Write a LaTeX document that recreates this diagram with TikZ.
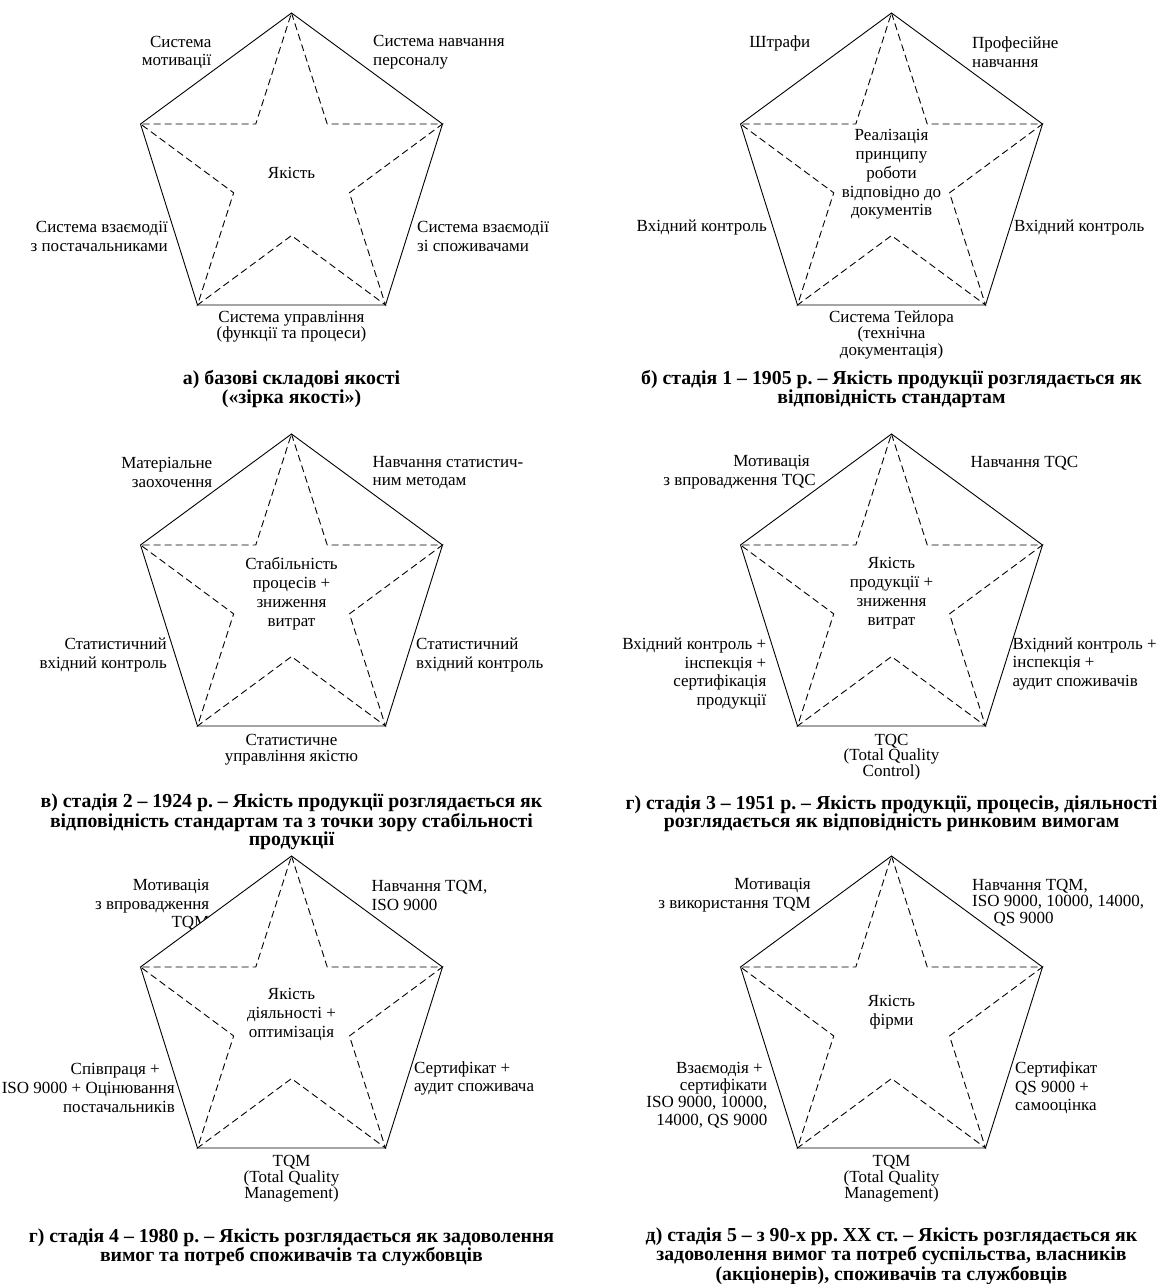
\documentclass[tikz,border=0pt]{standalone}
\usepackage{fontspec}
\setmainfont{Liberation Serif}
\frenchspacing
\tikzset{
  lbl/.style={font=\fontsize{17}{18.7}\selectfont, inner sep=0pt},
  botlbl/.style={font=\fontsize{17}{16}\selectfont, inner sep=0pt, align=center},
  ctr/.style={font=\fontsize{17}{19}\selectfont, inner sep=0pt, align=center},
  capt/.style={font=\fontsize{19.8}{18.3}\selectfont\bfseries, inner sep=0pt, align=center},
  rim/.style={draw=black, fill=white, line width=0.9pt, line join=miter},
  zirka/.style={draw=black, line width=0.9pt, dash pattern=on 7pt off 4pt}
}
\begin{document}
\begin{tikzpicture}[x=1pt,y=-1pt]
  \useasboundingbox (0,0) rectangle (1163,1284);

  % a) basic components
  \node[lbl, anchor=east, align=right] (a-tl) at (211.5,52.5) {Система\\мотивації};
  \node[lbl, anchor=west, align=left] (a-tr) at (373,52.5) {Система навчання\\персоналу};
  \node[lbl, anchor=east, align=right] (a-l) at (168,236.5) {Система взаємодії\\з постачальниками};
  \node[lbl, anchor=west, align=left] (a-r) at (417,236.5) {Система взаємодії\\зі споживачами};
  \node[botlbl] (a-b) at (291.5,326.5) {Система управління\\(функції та процеси)};

  % b) stage 1
  \node[lbl, anchor=east] (b-tl) at (810.5,43) {Штрафи};
  \node[lbl, anchor=west, align=left] (b-tr) at (972,52.5) {Професійне\\навчання};
  \node[lbl, anchor=east] (b-l) at (767,227) {Вхідний контроль};
  \node[lbl, anchor=west] (b-r) at (1014,227) {Вхідний контроль};
  \node[botlbl, font=\fontsize{17}{16.5}\selectfont] (b-b) at (891.5,335) {Система Тейлора\\(технічна\\документація)};

  % v) stage 2
  \node[lbl, anchor=east, align=right] (v-tl) at (212.5,472.5) {Матеріальне\\заохочення};
  \node[lbl, anchor=west, align=left] (v-tr) at (372.5,472.5) {Навчання статистич-\\ним методам};
  \node[lbl, anchor=east, align=right] (v-l) at (167,655) {Статистичний\\вхідний контроль};
  \node[lbl, anchor=west, align=left] (v-r) at (416,655) {Статистичний\\вхідний контроль};
  \node[botlbl] (v-b) at (291.5,749.5) {Статистичне\\управління якістю};

  % g) stage 3
  \node[lbl, anchor=east, align=right] (g-tl) at (816,472.5) {Мотивація\hspace*{6pt}\\з впровадження TQC};
  \node[lbl, anchor=west] (g-tr) at (970.5,463) {Навчання TQC};
  \node[lbl, anchor=east, align=right] (g-l) at (766.5,673.5) {Вхідний контроль +\\інспекція +\\сертифікація\\продукції};
  \node[lbl, anchor=west, align=left] (g-r) at (1012.5,664) {Вхідний контроль +\\інспекція +\\аудит споживачів};
  \node[botlbl, font=\fontsize{17}{15}\selectfont] (g-b) at (891.5,757) {TQC\\(Total Quality\\Control)};

  % h) stage 4
  \node[lbl, anchor=east, align=right] (h-tl) at (209.5,905) {Мотивація\\з впровадження\\TQM};
  \node[lbl, anchor=west, align=left] (h-tr) at (371.5,895.5) {Навчання TQM,\\ISO 9000};
  \node[lbl, anchor=east, align=right] (h-l) at (175,1088) {Співпраця +\hspace*{15pt}\\ISO 9000 + Оцінювання\\постачальників};
  \node[lbl, anchor=west, align=left] (h-r) at (414,1078.5) {Сертифікат +\\аудит споживача};
  \node[botlbl] (h-b) at (291.5,1179) {TQM\\(Total Quality\\Management)};

  % d) stage 5
  \node[lbl, anchor=east, align=right] (d-tl) at (811,895.5) {Мотивація\\з використання TQM};
  \node[lbl, anchor=west, align=left, font=\fontsize{17}{16.7}\selectfont] (d-tr) at (972,902.7) {Навчання TQM,\\ISO 9000, 10000, 14000,\\\hspace*{21.5pt}QS 9000};
  \node[lbl, anchor=east, align=right, font=\fontsize{17}{17.3}\selectfont] (d-l) at (767.5,1095) {Взаємодія +\hspace*{4.5pt}\\сертифікати\\ISO 9000, 10000,\\14000, QS 9000};
  \node[lbl, anchor=west, align=left] (d-r) at (1015,1088) {Сертифікат\\QS 9000 +\\самооцінка};
  \node[botlbl] (d-b) at (891.5,1179) {TQM\\(Total Quality\\Management)};

  % pentagons with dashed stars
  \foreach \p/\cx/\cy in {a/291.5/173, b/891.5/173, v/291.5/594, g/891.5/594, h/291.5/1016, d/891.5/1016}{
    \coordinate (\p-t)  at (\cx,\cy-160);
    \coordinate (\p-ul) at (\cx-151,\cy-49);
    \coordinate (\p-ur) at (\cx+151,\cy-49);
    \coordinate (\p-ll) at (\cx-94,\cy+132);
    \coordinate (\p-lr) at (\cx+94,\cy+132);
    \path[rim] (\p-t) -- (\p-ur) -- (\p-lr) -- (\p-ll) -- (\p-ul) -- cycle;
    \draw[zirka] (\p-t) -- (intersection of \p-t--\p-lr and \p-ur--\p-ul)
      -- (\p-ur) -- (intersection of \p-ur--\p-ll and \p-lr--\p-t)
      -- (\p-lr) -- (intersection of \p-lr--\p-ul and \p-ll--\p-ur)
      -- (\p-ll) -- (intersection of \p-ll--\p-t and \p-ul--\p-lr)
      -- (\p-ul) -- (intersection of \p-ul--\p-ur and \p-t--\p-ll) -- cycle;
  }

  % centre texts
  \node[ctr] (a-c) at (291.5,173) {Якість};
  \node[ctr, font=\fontsize{17}{18.8}\selectfont] (b-c) at (891.5,174.5) {Реалізація\\принципу\\роботи\\відповідно до\\документів};
  \node[ctr] (v-c) at (291.5,593.5) {Стабільність\\процесів +\\зниження\\витрат};
  \node[ctr] (g-c) at (891.5,593.5) {Якість\\продукції +\\зниження\\витрат};
  \node[ctr] (h-c) at (291.5,1015) {Якість\\діяльності +\\оптимізація};
  \node[ctr] (d-c) at (891.5,1012.5) {Якість\\фірми};

  % captions
  \node[capt] (a-cap) at (291.5,389) {а) базові складові якості\\(«зірка якості»)};
  \node[capt] (b-cap) at (891.5,389) {б) стадія 1 – 1905 р. – Якість продукції розглядається як\\відповідність стандартам};
  \node[capt] (v-cap) at (291.5,822) {в) стадія 2 – 1924 р. – Якість продукції розглядається як\\відповідність стандартам та з точки зору стабільності\\продукції};
  \node[capt] (g-cap) at (891.5,814) {г) стадія 3 – 1951 р. – Якість продукції, процесів, діяльності\\розглядається як відповідність ринковим вимогам};
  \node[capt] (h-cap) at (291.5,1247.5) {г) стадія 4 – 1980 р. – Якість розглядається як задоволення\\вимог та потреб споживачів та службовців};
  \node[capt] (d-cap) at (891.5,1256) {д) стадія 5 – з 90-х рр. XX ст. – Якість розглядається як\\задоволення вимог та потреб суспільства, власників\\(акціонерів), споживачів та службовців};
\end{tikzpicture}
\end{document}
